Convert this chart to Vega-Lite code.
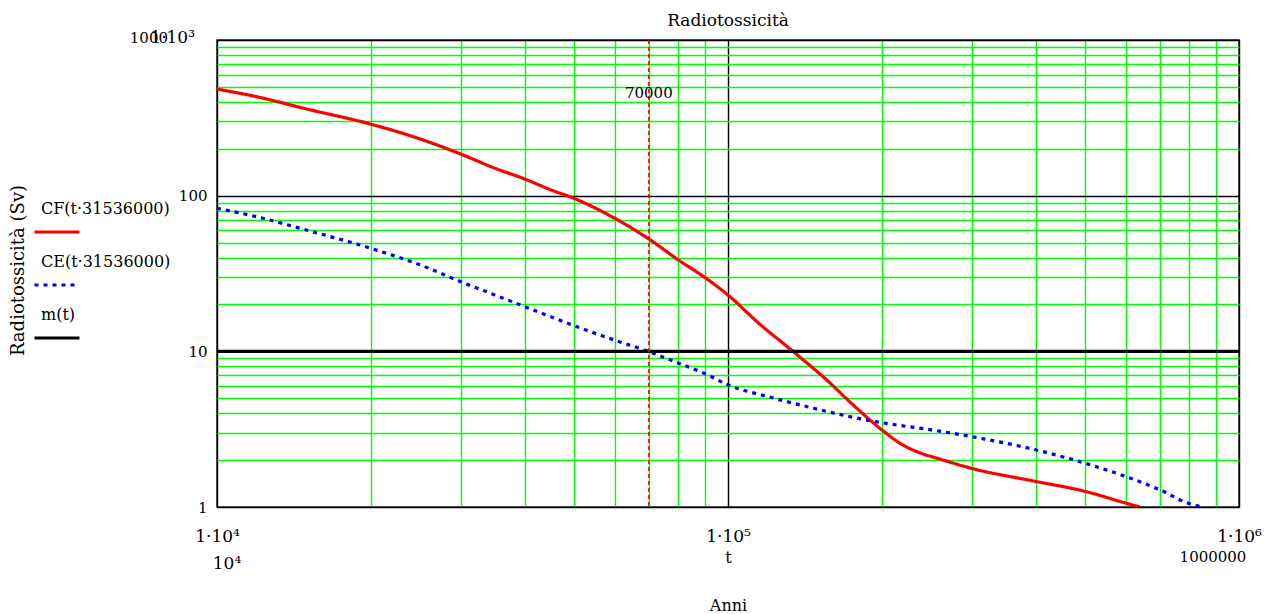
{
  "$schema": "https://vega.github.io/schema/vega-lite/v6.json",
  "width": 1022,
  "height": 467,
  "autosize": {"type": "none"},
  "padding": {"left": 217, "top": 40, "right": 30, "bottom": 107},
  "background": "white",
  "config": {
    "view": {"stroke": "#222222", "strokeWidth": 1.5},
    "font": "DejaVu Serif",
    "text": {"font": "DejaVu Serif", "fontSize": 15, "color": "black"}
  },
  "title": {
    "text": "Radiotossicità",
    "font": "DejaVu Serif",
    "fontSize": 17,
    "fontWeight": "normal",
    "anchor": "middle",
    "baseline": "alphabetic",
    "offset": -14,
    "color": "black"
  },
  "datasets": {
    "curves": [
      {"t": 10000, "v": 484, "s": "CF(t·31536000)"},
      {"t": 12000, "v": 431, "s": "CF(t·31536000)"},
      {"t": 15000, "v": 360, "s": "CF(t·31536000)"},
      {"t": 20000, "v": 288, "s": "CF(t·31536000)"},
      {"t": 25000, "v": 231, "s": "CF(t·31536000)"},
      {"t": 30000, "v": 185, "s": "CF(t·31536000)"},
      {"t": 35000, "v": 150, "s": "CF(t·31536000)"},
      {"t": 40000, "v": 128, "s": "CF(t·31536000)"},
      {"t": 45000, "v": 109, "s": "CF(t·31536000)"},
      {"t": 50000, "v": 96, "s": "CF(t·31536000)"},
      {"t": 60000, "v": 71.6, "s": "CF(t·31536000)"},
      {"t": 70000, "v": 52.7, "s": "CF(t·31536000)"},
      {"t": 80000, "v": 38.6, "s": "CF(t·31536000)"},
      {"t": 90000, "v": 29.9, "s": "CF(t·31536000)"},
      {"t": 100000, "v": 23, "s": "CF(t·31536000)"},
      {"t": 115000, "v": 15.1, "s": "CF(t·31536000)"},
      {"t": 134000, "v": 10, "s": "CF(t·31536000)"},
      {"t": 156000, "v": 6.55, "s": "CF(t·31536000)"},
      {"t": 173000, "v": 4.75, "s": "CF(t·31536000)"},
      {"t": 200000, "v": 3.13, "s": "CF(t·31536000)"},
      {"t": 220000, "v": 2.5, "s": "CF(t·31536000)"},
      {"t": 234000, "v": 2.27, "s": "CF(t·31536000)"},
      {"t": 260000, "v": 2.03, "s": "CF(t·31536000)"},
      {"t": 300000, "v": 1.77, "s": "CF(t·31536000)"},
      {"t": 400000, "v": 1.46, "s": "CF(t·31536000)"},
      {"t": 500000, "v": 1.26, "s": "CF(t·31536000)"},
      {"t": 600000, "v": 1.06, "s": "CF(t·31536000)"},
      {"t": 640000, "v": 1.0, "s": "CF(t·31536000)"},
      {"t": 10000, "v": 83, "s": "CE(t·31536000)"},
      {"t": 12000, "v": 73, "s": "CE(t·31536000)"},
      {"t": 15000, "v": 60, "s": "CE(t·31536000)"},
      {"t": 20000, "v": 45.9, "s": "CE(t·31536000)"},
      {"t": 25000, "v": 35.9, "s": "CE(t·31536000)"},
      {"t": 30000, "v": 28, "s": "CE(t·31536000)"},
      {"t": 35000, "v": 23, "s": "CE(t·31536000)"},
      {"t": 40000, "v": 19.4, "s": "CE(t·31536000)"},
      {"t": 50000, "v": 14.6, "s": "CE(t·31536000)"},
      {"t": 60000, "v": 11.8, "s": "CE(t·31536000)"},
      {"t": 70000, "v": 9.96, "s": "CE(t·31536000)"},
      {"t": 80000, "v": 8.4, "s": "CE(t·31536000)"},
      {"t": 90000, "v": 7.2, "s": "CE(t·31536000)"},
      {"t": 100000, "v": 6.1, "s": "CE(t·31536000)"},
      {"t": 123000, "v": 5.0, "s": "CE(t·31536000)"},
      {"t": 147000, "v": 4.31, "s": "CE(t·31536000)"},
      {"t": 173000, "v": 3.81, "s": "CE(t·31536000)"},
      {"t": 200000, "v": 3.48, "s": "CE(t·31536000)"},
      {"t": 250000, "v": 3.13, "s": "CE(t·31536000)"},
      {"t": 300000, "v": 2.83, "s": "CE(t·31536000)"},
      {"t": 400000, "v": 2.33, "s": "CE(t·31536000)"},
      {"t": 500000, "v": 1.91, "s": "CE(t·31536000)"},
      {"t": 600000, "v": 1.57, "s": "CE(t·31536000)"},
      {"t": 700000, "v": 1.29, "s": "CE(t·31536000)"},
      {"t": 800000, "v": 1.05, "s": "CE(t·31536000)"},
      {"t": 850000, "v": 1.0, "s": "CE(t·31536000)"},
      {"t": 10000, "v": 10, "s": "m(t)"},
      {"t": 1000000, "v": 10, "s": "m(t)"}
    ],
    "one": [{}]
  },
  "layer": [
    {
      "data": {"name": "curves"},
      "mark": {"type": "line", "strokeWidth": 3.2, "clip": true, "interpolate": "monotone"},
      "encoding": {
        "x": {
          "field": "t",
          "type": "quantitative",
          "scale": {"type": "log", "domain": [10000, 1000000], "nice": false},
          "axis": {
            "values": [10000, 20000, 30000, 40000, 50000, 60000, 70000, 80000, 90000, 100000, 200000, 300000, 400000, 500000, 600000, 700000, 800000, 900000, 1000000],
            "labelExpr": "datum.value == 10000 ? '1·10⁴' : datum.value == 100000 ? '1·10⁵' : datum.value == 1000000 ? '1·10⁶' : ''",
            "labelFont": "DejaVu Serif",
            "labelFontSize": 17,
            "labelColor": "black",
            "labelPadding": 21,
            "labelFlush": false,
            "labelOverlap": false,
            "labelBound": false,
            "ticks": false,
            "domain": false,
            "grid": true,
            "gridColor": {"condition": {"test": "datum.value == 10000 || datum.value == 100000 || datum.value == 1000000", "value": "black"}, "value": "#00ff00"},
            "gridWidth": 1.4,
            "gridOpacity": 1,
            "title": ["t", "Anni"],
            "titleFont": "DejaVu Serif",
            "titleFontSize": 16,
            "titleFontWeight": "normal",
            "titleColor": "black",
            "titleLineHeight": 48,
            "titleBaseline": "alphabetic",
            "titleAlign": "center",
            "titleX": 511,
            "titleY": 55
          }
        },
        "y": {
          "field": "v",
          "type": "quantitative",
          "scale": {"type": "log", "domain": [1, 1000], "nice": false},
          "axis": {
            "values": [1, 2, 3, 4, 5, 6, 7, 8, 9, 10, 20, 30, 40, 50, 60, 70, 80, 90, 100, 200, 300, 400, 500, 600, 700, 800, 900, 1000],
            "labelExpr": "datum.value == 1 ? '1' : datum.value == 10 ? '10' : datum.value == 100 ? '100' : ''",
            "labelFont": "DejaVu Serif",
            "labelFontSize": 15,
            "labelColor": "black",
            "labelPadding": 10,
            "labelOverlap": false,
            "labelBound": false,
            "labelFlush": false,
            "ticks": false,
            "domain": false,
            "grid": true,
            "gridColor": {"condition": {"test": "datum.value == 1 || datum.value == 10 || datum.value == 100 || datum.value == 1000", "value": "black"}, "value": "#00ff00"},
            "gridWidth": 1.4,
            "gridOpacity": 1,
            "title": "Radiotossicità (Sv)",
            "titleFont": "DejaVu Serif",
            "titleFontSize": 18,
            "titleFontWeight": "normal",
            "titleColor": "black",
            "titleAngle": -90,
            "titleAlign": "center",
            "titleBaseline": "middle",
            "titleX": -199,
            "titleY": 230
          }
        },
        "color": {
          "field": "s",
          "type": "nominal",
          "scale": {"domain": ["CF(t·31536000)", "CE(t·31536000)", "m(t)"], "range": ["#ff0000", "#0000ff", "#000000"]},
          "legend": {
            "orient": "none",
            "legendX": -184,
            "legendY": 145,
            "title": null,
            "padding": 0,
            "symbolType": "M-1,1.02H1",
            "symbolSize": 2025,
            "symbolStrokeWidth": 3,
            "labelOffset": -40,
            "labelFont": "DejaVu Serif",
            "labelFontSize": 16,
            "labelColor": "black",
            "labelBaseline": "middle",
            "labelLimit": 300,
            "rowPadding": -1
          }
        },
        "strokeDash": {
          "field": "s",
          "type": "nominal",
          "scale": {"domain": ["CF(t·31536000)", "CE(t·31536000)", "m(t)"], "range": [[1, 0], [4, 5], [1, 0]]}
        }
      }
    },
    {
      "data": {"name": "one"},
      "mark": {"type": "rule", "color": "#ff0000", "strokeDash": [4, 3], "strokeWidth": 1.5},
      "encoding": {"x": {"datum": 70000, "type": "quantitative"}}
    },
    {
      "data": {"name": "one"},
      "mark": {"type": "text", "align": "center", "baseline": "middle", "fontSize": 15, "color": "black"},
      "encoding": {"x": {"datum": 70000, "type": "quantitative"}, "y": {"datum": 457, "type": "quantitative"}, "text": {"value": "70000"}}
    },
    {
      "data": {"name": "one"},
      "mark": {"type": "text", "align": "right", "baseline": "middle", "dx": -49, "dy": -2, "fontSize": 15, "color": "black"},
      "encoding": {"x": {"datum": 10000, "type": "quantitative"}, "y": {"datum": 1000, "type": "quantitative"}, "text": {"value": "1000"}}
    },
    {
      "data": {"name": "one"},
      "mark": {"type": "text", "align": "right", "baseline": "middle", "dx": -22, "dy": -2, "fontSize": 17, "color": "black"},
      "encoding": {"x": {"datum": 10000, "type": "quantitative"}, "y": {"datum": 1000, "type": "quantitative"}, "text": {"value": "1·10³"}}
    },
    {
      "data": {"name": "one"},
      "mark": {"type": "text", "align": "center", "baseline": "alphabetic", "dx": 10, "dy": 62, "fontSize": 17, "color": "black"},
      "encoding": {"x": {"datum": 10000, "type": "quantitative"}, "y": {"datum": 1, "type": "quantitative"}, "text": {"value": "10⁴"}}
    },
    {
      "data": {"name": "one"},
      "mark": {"type": "text", "align": "center", "baseline": "alphabetic", "dx": -26, "dy": 55, "fontSize": 15, "color": "black"},
      "encoding": {"x": {"datum": 1000000, "type": "quantitative"}, "y": {"datum": 1, "type": "quantitative"}, "text": {"value": "1000000"}}
    }
  ]
}
